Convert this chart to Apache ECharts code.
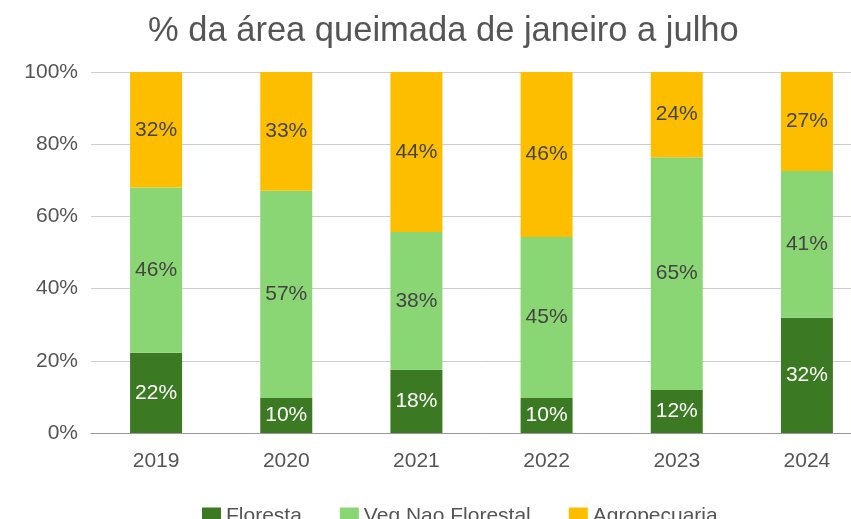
<!DOCTYPE html>
<html><head><meta charset="utf-8">
<script src="https://cdn.jsdelivr.net/npm/echarts@6/dist/echarts.min.js"></script>
<style>html,body{margin:0;padding:0;background:#fff;overflow:hidden}#c{width:872px;height:519px}</style>
</head><body><div id="c"></div>
<script>
const categories = ['2019','2020','2021','2022','2023','2024'];
const floresta = [22.2, 9.7, 17.5, 9.7, 11.9, 31.9];
const vegNaoFlorestal = [45.8, 57.4, 38.2, 44.6, 64.5, 40.7];
const agropecuaria = [32.0, 32.9, 44.3, 45.7, 23.6, 27.4];
const yTicks = [0, 20, 40, 60, 80, 100];
const seriesNames = ['Floresta', 'Veg Nao Florestal', 'Agropecuaria'];
const colors = ['#3b7a23', '#8bd674', '#fdbe00'];

const font = 'Liberation Sans, Arial, sans-serif';
const chart = echarts.init(document.getElementById('c'));
function mk(name, data, color, labelColor) {
  return {
    name, type: 'bar', stack: 'total', data,
    barWidth: 52,
    itemStyle: { color },
    label: { show: true, position: 'inside', color: labelColor, fontFamily: font, fontSize: 21,
      formatter: p => Math.round(p.value) + '%' }
  };
}
chart.setOption({
  animation: false,
  color: colors,
  title: { text: '% da área queimada de janeiro a julho', left: 143, top: 9,
    textStyle: { fontFamily: font, fontSize: 34.5, fontWeight: 'normal', color: '#555' } },
  legend: { left: 197, top: 501, itemWidth: 19, itemHeight: 18, itemGap: 38, icon: 'rect',
    textStyle: { fontFamily: font, fontSize: 21, color: '#555' }, data: seriesNames },
  grid: { left: 91, top: 72, right: 0, bottom: 86 },
  xAxis: { type: 'category', data: categories,
    axisLine: { lineStyle: { color: '#999' } }, axisTick: { show: false },
    axisLabel: { fontFamily: font, fontSize: 21, color: '#555', margin: 18 } },
  yAxis: { type: 'value', min: 0, max: 100, interval: 20,
    axisLine: { show: false }, axisTick: { show: false },
    splitLine: { lineStyle: { color: '#ccc' } },
    axisLabel: { fontFamily: font, fontSize: 21, color: '#555', margin: 13,
      formatter: v => yTicks.includes(v) ? v + '%' : '' } },
  series: [
    mk(seriesNames[0], floresta, colors[0], '#fff'),
    mk(seriesNames[1], vegNaoFlorestal, colors[1], '#444'),
    mk(seriesNames[2], agropecuaria, colors[2], '#444')
  ]
});
</script></body></html>
